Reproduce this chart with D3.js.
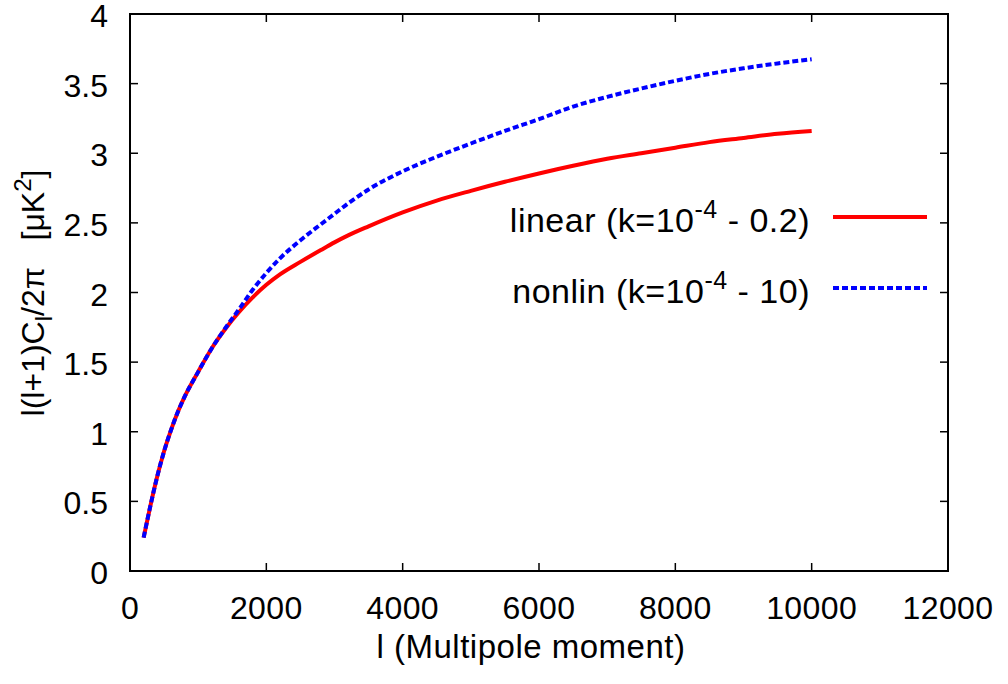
<!DOCTYPE html>
<html>
<head>
<meta charset="utf-8">
<script src="https://cdn.jsdelivr.net/npm/d3@7"></script>
<style>
  html, body { margin: 0; padding: 0; background: #fff; }
  svg { display: block; font-family: "Liberation Sans", Arial, Helvetica, sans-serif; }
</style>
</head>
<body>
<svg id="chart" width="1008" height="684"></svg>
<script>
// ---- data ----
const multipoles = [200, 300, 400, 500, 600, 700, 800, 1000, 1200, 1400, 1600, 1800, 2000, 2200, 2500, 2800, 3000, 3200, 3500, 4000, 4500, 5000, 5500, 6000, 6500, 7000, 7500, 8000, 8500, 9000, 9500, 10000];
const linearVals = [0.24, 0.47, 0.68, 0.86, 1.01, 1.14, 1.25, 1.43, 1.60, 1.74, 1.86, 1.965, 2.055, 2.13, 2.22, 2.305, 2.36, 2.41, 2.475, 2.575, 2.66, 2.73, 2.795, 2.855, 2.91, 2.96, 3.00, 3.04, 3.08, 3.11, 3.14, 3.16];
const nonlinVals = [0.24, 0.47, 0.68, 0.86, 1.01, 1.14, 1.25, 1.43, 1.60, 1.745, 1.88, 2.02, 2.14, 2.245, 2.375, 2.49, 2.565, 2.64, 2.74, 2.87, 2.975, 3.07, 3.16, 3.245, 3.335, 3.405, 3.465, 3.52, 3.57, 3.61, 3.645, 3.675];
const xTicks = [0, 2000, 4000, 6000, 8000, 10000, 12000];
const yTicks = [0, 0.5, 1, 1.5, 2, 2.5, 3, 3.5, 4];
const yTickLabels = ["0", "0.5", "1", "1.5", "2", "2.5", "3", "3.5", "4"];

// ---- layout ----
const W = 1008, H = 684;
const m = { left: 130, right: 60, top: 14, bottom: 113 };
const svg = d3.select("#chart");
const x = d3.scaleLinear().domain([0, 12000]).range([m.left, W - m.right]);
const y = d3.scaleLinear().domain([0, 4]).range([H - m.bottom, m.top]);
const FS = 32;
const tickLen = 8;

// ticks (inward, mirrored)
const tickG = svg.append("g").attr("stroke", "#000").attr("stroke-width", 1.5);
xTicks.forEach(t => {
  tickG.append("line").attr("x1", x(t)).attr("x2", x(t)).attr("y1", y(0)).attr("y2", y(0) - tickLen);
  tickG.append("line").attr("x1", x(t)).attr("x2", x(t)).attr("y1", y(4)).attr("y2", y(4) + tickLen);
});
yTicks.forEach(t => {
  tickG.append("line").attr("x1", x(0)).attr("x2", x(0) + tickLen).attr("y1", y(t)).attr("y2", y(t));
  tickG.append("line").attr("x1", x(12000)).attr("x2", x(12000) - tickLen).attr("y1", y(t)).attr("y2", y(t));
});

// tick labels
svg.append("g").selectAll("text").data(xTicks).join("text")
  .attr("x", d => x(d)).attr("y", y(0) + 48)
  .attr("text-anchor", "middle").attr("font-size", FS).attr("letter-spacing", 0.4).text(d => d);
svg.append("g").selectAll("text").data(yTicks).join("text")
  .attr("x", x(0) - 22).attr("y", d => y(d) + 13)
  .attr("text-anchor", "end").attr("font-size", FS).text((d, i) => yTickLabels[i]);

// curves
const line = d3.line().curve(d3.curveMonotoneX).x(d => x(d[0])).y(d => y(d[1]));
const linData = multipoles.map((l, i) => [l, linearVals[i]]);
const nlData = multipoles.map((l, i) => [l, nonlinVals[i]]);
svg.append("path").datum(linData).attr("d", line)
  .attr("fill", "none").attr("stroke", "#ff0000").attr("stroke-width", 4).attr("stroke-linejoin", "round");
svg.append("path").datum(nlData).attr("d", line)
  .attr("fill", "none").attr("stroke", "#0000ff").attr("stroke-width", 4).attr("stroke-dasharray", "6,3");

// frame
svg.append("rect").attr("x", x(0)).attr("y", y(4)).attr("width", x(12000) - x(0)).attr("height", y(0) - y(4))
  .attr("fill", "none").attr("stroke", "#000").attr("stroke-width", 2);

// axis titles
svg.append("text").attr("x", 531).attr("y", 658).attr("text-anchor", "middle")
  .attr("font-size", 33).attr("letter-spacing", 0.5).text("l (Multipole moment)");

const yt = svg.append("text").attr("transform", "translate(44,293) rotate(-90)")
  .attr("text-anchor", "middle").attr("font-size", FS);
yt.append("tspan").text("l(l+1)C");
yt.append("tspan").attr("font-size", 24).attr("dy", 8).text("l");
yt.append("tspan").attr("dy", -8).text("/2\u03c0\u00a0\u00a0\u00a0[\u03bcK");
yt.append("tspan").attr("font-size", 24).attr("dy", -13).text("2");
yt.append("tspan").attr("dy", 13).text("]");

// legend
const legend = [
  { name: "linear", range: "0.2", color: "#ff0000", dash: null, yMid: 217 },
  { name: "nonlin", range: "10", color: "#0000ff", dash: "6,3", yMid: 288 }
];
legend.forEach(d => {
  const t = svg.append("text").attr("x", 810).attr("y", d.yMid + 15)
    .attr("text-anchor", "end").attr("font-size", 34).attr("letter-spacing", 0.5);
  t.append("tspan").text(d.name + " (k=10");
  t.append("tspan").attr("font-size", 25).attr("dy", -14).text("-4");
  t.append("tspan").attr("dy", 14).text(" - " + d.range + ")");
  svg.append("line").attr("x1", 833).attr("x2", 927).attr("y1", d.yMid).attr("y2", d.yMid)
    .attr("stroke", d.color).attr("stroke-width", 4).attr("stroke-dasharray", d.dash);
});
</script>
</body>
</html>
